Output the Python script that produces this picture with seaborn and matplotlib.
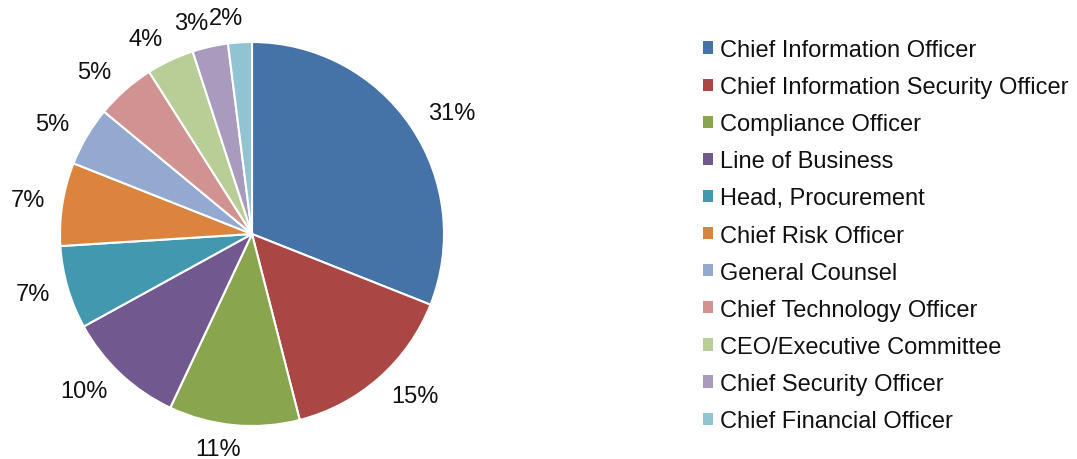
import numpy as np
import matplotlib
matplotlib.use("Agg")
import matplotlib.pyplot as plt
from matplotlib.patches import Patch
import seaborn as sns

# ---- data ----
roles = ["Chief Information Officer", "Chief Information Security Officer",
         "Compliance Officer", "Line of Business", "Head, Procurement",
         "Chief Risk Officer", "General Counsel", "Chief Technology Officer",
         "CEO/Executive Committee", "Chief Security Officer",
         "Chief Financial Officer"]
shares = [31, 15, 11, 10, 7, 7, 5, 5, 4, 3, 2]
hex_colors = ["#4572A7", "#AA4643", "#89A54E", "#71588F", "#4198AF",
              "#DB843D", "#93A9CF", "#D19392", "#B9CD96", "#A99BBD",
              "#92C3D3"]

sns.set_theme(style="white")
plt.rcParams["font.family"] = ["Liberation Sans", "DejaVu Sans"]
palette = sns.color_palette(hex_colors)

fig = plt.figure(figsize=(10.77, 4.6), dpi=100)
# pie centred at (252, 235) px, radius ~192 px
half = 230
ax = fig.add_axes([(252 - half) / 1077, (225 - half) / 460, 2 * half / 1077, 2 * half / 460])
wedges, _ = ax.pie(shares, colors=palette, startangle=90, counterclock=False,
                   wedgeprops=dict(edgecolor="white", linewidth=1.5))
lim = half / 192
ax.set_xlim(-lim, lim)
ax.set_ylim(-lim, lim)
ax.set_aspect("equal")
ax.axis("off")

# percentage labels just outside the pie
fs = 17
gap, hh = 0.08, 0.045
for w, v in zip(wedges, shares):
    ang = np.deg2rad((w.theta1 + w.theta2) / 2)
    txt = f"{v}%"
    hw = 0.046 * len(txt)
    c, s = np.cos(ang), np.sin(ang)
    x = (1 + gap) * c + hw * c + 0.06 * np.sign(c) * abs(s)
    y = (1 + gap) * s + hh * s
    ax.text(x, y, txt, ha="center", va="center", fontsize=fs, color="#111111")

handles = [Patch(facecolor=col, edgecolor="none") for col in palette]
fig.legend(handles, roles, loc="upper left",
           bbox_to_anchor=(703 / 1077, 1 - 40 / 460),
           frameon=False, fontsize=fs, borderpad=0, borderaxespad=0,
           handlelength=0.42, handleheight=0.42, handletextpad=0.3,
           labelspacing=0.64, labelcolor="#111111")

fig.savefig("out.png", dpi=100)
